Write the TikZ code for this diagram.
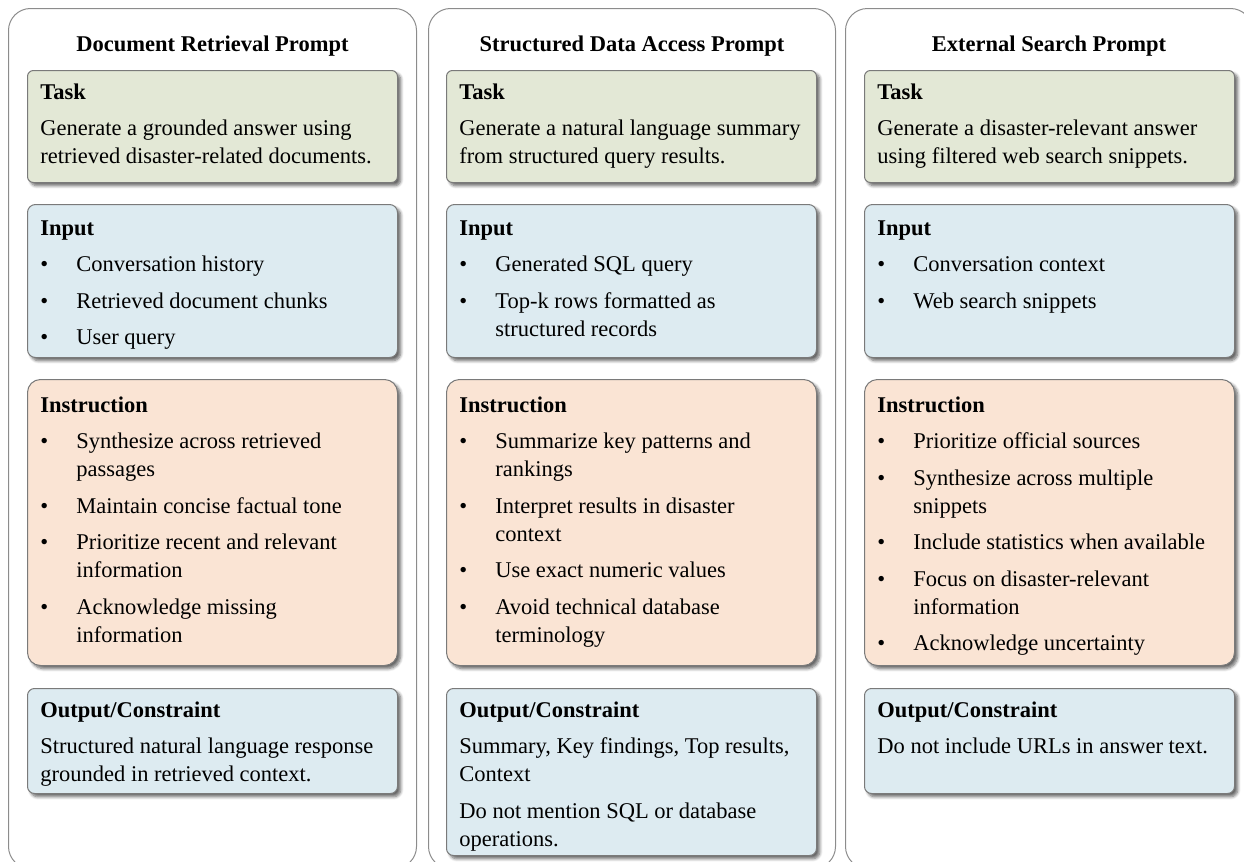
\documentclass[tikz,border=0pt]{standalone}
\usepackage{fontspec}
\setmainfont{Liberation Serif}
\usetikzlibrary{shadows.blur}
\definecolor{taskfill}{HTML}{E3E8D6}
\definecolor{inputfill}{HTML}{DDEBF1}
\definecolor{instrfill}{HTML}{FAE4D4}
\definecolor{boxline}{HTML}{7A7A7A}
\definecolor{panelline}{HTML}{8C8C8C}
\newcommand{\bul}[1]{\par\vspace{4.25pt}\spaceskip=0pt\xspaceskip=0pt\hangindent=18pt\hangafter=1\noindent\makebox[18pt][l]{\textbullet}#1\par}
\newcommand{\ptext}[1]{\par\vspace{4.25pt}\spaceskip=0pt\xspaceskip=0pt\noindent #1\par}

\begin{document}
\begin{tikzpicture}[x=0.5pt,y=-0.5pt,
    panel/.style={draw=panelline,line width=0.5pt,rounded corners=11pt,anchor=north west,inner sep=0pt,minimum height=430pt},
    card/.style={draw=boxline,line width=0.5pt,anchor=north west,inner sep=0pt,minimum width=185pt,
        blur shadow={shadow xshift=1.6pt,shadow yshift=-1.6pt,shadow blur radius=1.5pt,shadow blur steps=6,shadow opacity=60}},
    taskbox/.style={card,fill=taskfill,minimum height=56pt,rounded corners=3pt},
    inbox/.style={card,fill=inputfill,minimum height=76.5pt,rounded corners=4pt},
    instrbox/.style={card,fill=instrfill,minimum height=143pt,rounded corners=6.5pt},
    outbox/.style={card,fill=inputfill,minimum height=52.5pt,rounded corners=3.5pt},
    body/.style={anchor=base west,inner sep=0pt,text width=182pt,align=left,font=\fontsize{11.25}{14}\selectfont},
    title/.style={anchor=base,inner sep=0pt,font=\fontsize{11.25}{14}\selectfont\bfseries}]
    \useasboundingbox (0,0) rectangle (1244,862);

    % panels
    \node[panel,minimum width=204pt]   (p1) at (8,8)   {};
    \node[panel,minimum width=203.5pt] (p2) at (428,8) {};
    \node[panel,minimum width=203.5pt] (p3) at (845,8) {};
    \node[title] (h1) at ([yshift=-22pt]p1.north) {Document Retrieval Prompt};
    \node[title] (h2) at ([yshift=-22pt]p2.north) {Structured Data Access Prompt};
    \node[title] (h3) at ([yshift=-22pt]p3.north) {External Search Prompt};

    % document retrieval
    \node[taskbox]  (t1) at (27,70)  {};
    \node[inbox]    (i1) at (27,204) {};
    \node[instrbox] (s1) at (27,379) {};
    \node[outbox]   (o1) at (27,688) {};
    \node[body] (t1txt) at ([xshift=6.5pt,yshift=-14.5pt]t1.north west) {\textbf{Task}
        \ptext{Generate a grounded answer using\newline retrieved disaster-related documents.}};
    \node[body] (i1txt) at ([xshift=6.5pt,yshift=-15.5pt]i1.north west) {\textbf{Input}
        \bul{Conversation history}
        \bul{Retrieved document chunks}
        \bul{User query}};
    \node[body] (s1txt) at ([xshift=6.5pt,yshift=-16.5pt]s1.north west) {\textbf{Instruction}
        \bul{Synthesize across retrieved\newline passages}
        \bul{Maintain concise factual tone}
        \bul{Prioritize recent and relevant\newline information}
        \bul{Acknowledge missing\newline information}};
    \node[body] (o1txt) at ([xshift=6.5pt,yshift=-14.5pt]o1.north west) {\textbf{Output/Constraint}
        \ptext{Structured natural language response\newline grounded in retrieved context.}};

    % structured data access
    \node[taskbox]  (t2) at (446,70)  {};
    \node[inbox]    (i2) at (446,204) {};
    \node[instrbox] (s2) at (446,379) {};
    \node[outbox,minimum height=83.5pt] (o2) at (446,688) {};
    \node[body] (t2txt) at ([xshift=6.5pt,yshift=-14.5pt]t2.north west) {\textbf{Task}
        \ptext{Generate a natural language summary\newline from structured query results.}};
    \node[body] (i2txt) at ([xshift=6.5pt,yshift=-15.5pt]i2.north west) {\textbf{Input}
        \bul{Generated SQL query}
        \bul{Top-k rows formatted as\newline structured records}};
    \node[body] (s2txt) at ([xshift=6.5pt,yshift=-16.5pt]s2.north west) {\textbf{Instruction}
        \bul{Summarize key patterns and\newline rankings}
        \bul{Interpret results in disaster\newline context}
        \bul{Use exact numeric values}
        \bul{Avoid technical database\newline terminology}};
    \node[body] (o2txt) at ([xshift=6.5pt,yshift=-14.5pt]o2.north west) {\textbf{Output/Constraint}
        \ptext{Summary, Key findings, Top results,\newline Context}
        \ptext{Do not mention SQL or database\newline operations.}};

    % external search
    \node[taskbox]  (t3) at (864,70)  {};
    \node[inbox]    (i3) at (864,204) {};
    \node[instrbox] (s3) at (864,379) {};
    \node[outbox]   (o3) at (864,688) {};
    \node[body] (t3txt) at ([xshift=6.5pt,yshift=-14.5pt]t3.north west) {\textbf{Task}
        \ptext{Generate a disaster-relevant answer\newline using filtered web search snippets.}};
    \node[body] (i3txt) at ([xshift=6.5pt,yshift=-15.5pt]i3.north west) {\textbf{Input}
        \bul{Conversation context}
        \bul{Web search snippets}};
    \node[body] (s3txt) at ([xshift=6.5pt,yshift=-16.5pt]s3.north west) {\textbf{Instruction}
        \bul{Prioritize official sources}
        \bul{Synthesize across multiple\newline snippets}
        \bul{Include statistics when available}
        \bul{Focus on disaster-relevant\newline information}
        \bul{Acknowledge uncertainty}};
    \node[body] (o3txt) at ([xshift=6.5pt,yshift=-14.5pt]o3.north west) {\textbf{Output/Constraint}
        \ptext{Do not include URLs in answer text.}};
\end{tikzpicture}
\end{document}
